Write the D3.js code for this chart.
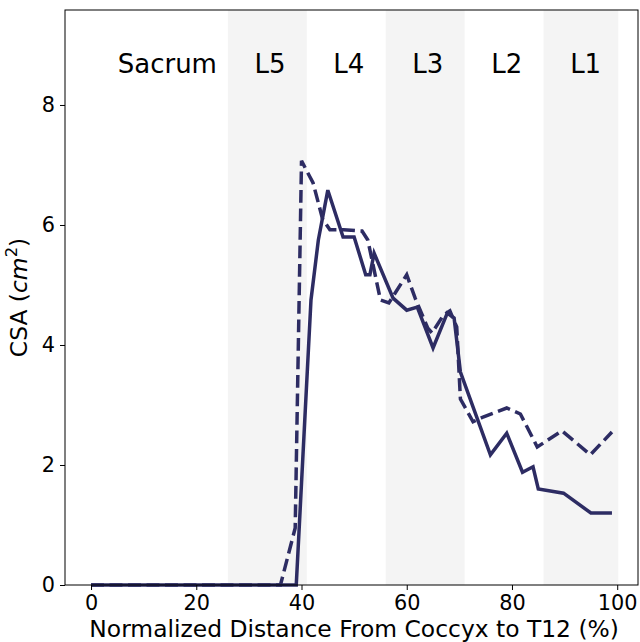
<!DOCTYPE html>
<html>
<head>
<meta charset="utf-8">
<script src="https://cdn.jsdelivr.net/npm/d3@7"></script>
<style>
  body { margin: 0; background: #fff; }
  text { font-family: "DejaVu Sans", sans-serif; fill: #000; }
</style>
</head>
<body>
<div id="chart-area"></div>
<script>
// region labels and shaded bands (% of coccyx-T12 distance)
var regionNames = ["Sacrum", "L5", "L4", "L3", "L2", "L1"];
var regionCenters = [14.5, 34, 49, 64, 79, 94];
var shadedBands = [[26, 41], [56, 71], [86, 100.2]];

// solid series
var solidX = [0, 39, 41.8, 43.2, 45, 47.9, 50, 52.2, 53, 53.8, 57.4, 60, 62, 65, 67.7, 69, 70.2, 75.9, 79, 82, 84, 85, 89.8, 95, 99];
var solidY = [0, 0, 4.75, 5.75, 6.58, 5.8, 5.8, 5.17, 5.17, 5.53, 4.78, 4.58, 4.63, 3.95, 4.53, 4.45, 3.55, 2.17, 2.53, 1.88, 1.97, 1.6, 1.53, 1.2, 1.2];

// dashed series
var dashedX = [0, 36, 38.8, 40, 42.2, 44, 45.4, 48, 51.5, 52.6, 55, 56.6, 60, 61.6, 64, 64.8, 67, 68.2, 69.5, 70.2, 72.6, 74.5, 79, 81.6, 84.8, 89.5, 94.9, 99];
var dashedY = [0, 0, 0.95, 7.07, 6.7, 6.1, 5.92, 5.92, 5.9, 5.75, 4.75, 4.7, 5.17, 4.78, 4.28, 4.2, 4.5, 4.57, 4.3, 3.1, 2.72, 2.8, 2.95, 2.85, 2.3, 2.57, 2.17, 2.55];

var xTicks = [0, 20, 40, 60, 80, 100];
var yTicks = [0, 2, 4, 6, 8];

var lineColor = "#2d2c63";

var svg = d3.select("#chart-area")
  .append("svg")
  .attr("width", 640)
  .attr("height", 642);

var margin = { top: 10, right: 2, bottom: 57, left: 65 };
var width = 640 - margin.left - margin.right;
var height = 642 - margin.top - margin.bottom;

var g = svg.append("g")
  .attr("transform", "translate(" + margin.left + "," + margin.top + ")");

var x = d3.scaleLinear()
  .domain([-4.95, 103.95])
  .range([0, width]);

var y = d3.scaleLinear()
  .domain([0, 9.583])
  .range([height, 0]);

g.selectAll("rect.band")
  .data(shadedBands)
  .enter()
  .append("rect")
  .attr("class", "band")
  .attr("x", d => x(d[0]))
  .attr("y", 0)
  .attr("width", d => x(d[1]) - x(d[0]))
  .attr("height", height)
  .attr("fill", "#f4f4f4");

g.selectAll("text.region")
  .data(regionNames)
  .enter()
  .append("text")
  .attr("class", "region")
  .attr("x", (d, i) => x(regionCenters[i]))
  .attr("y", 63)
  .attr("text-anchor", "middle")
  .attr("font-size", "26px")
  .text(d => d);

var line = d3.line()
  .x(d => x(d[0]))
  .y(d => y(d[1]));

g.append("path")
  .datum(dashedX.map((v, i) => [v, dashedY[i]]))
  .attr("d", line)
  .attr("fill", "none")
  .attr("stroke", lineColor)
  .attr("stroke-width", 3.5)
  .attr("stroke-dasharray", "12.9,5.6");

g.append("path")
  .datum(solidX.map((v, i) => [v, solidY[i]]))
  .attr("d", line)
  .attr("fill", "none")
  .attr("stroke", lineColor)
  .attr("stroke-width", 3.5);

// frame
g.append("rect")
  .attr("x", 0)
  .attr("y", 0)
  .attr("width", width)
  .attr("height", height)
  .attr("fill", "none")
  .attr("stroke", "#000")
  .attr("stroke-width", 1);

var xAxisCall = d3.axisBottom(x)
  .tickValues(xTicks)
  .tickSize(5)
  .tickPadding(5);
var xAxis = g.append("g")
  .attr("class", "x axis")
  .attr("transform", "translate(0," + height + ")")
  .call(xAxisCall);
xAxis.select(".domain").remove();
xAxis.selectAll("text")
  .attr("font-size", "20.8px")
  .attr("font-family", "DejaVu Sans")
  .attr("fill", "#000");

var yAxisCall = d3.axisLeft(y)
  .tickValues(yTicks)
  .tickSize(5)
  .tickPadding(5);
var yAxis = g.append("g")
  .attr("class", "y axis")
  .call(yAxisCall);
yAxis.select(".domain").remove();
yAxis.selectAll("text")
  .attr("font-size", "20.8px")
  .attr("font-family", "DejaVu Sans")
  .attr("fill", "#000");

g.append("text")
  .attr("class", "x axis-label")
  .attr("x", x(50))
  .attr("y", height + 52)
  .attr("font-size", "23.4px")
  .attr("text-anchor", "middle")
  .text("Normalized Distance From Coccyx to T12 (%)");

var yLabel = g.append("text")
  .attr("class", "y axis-label")
  .attr("x", -(height / 2))
  .attr("y", -38)
  .attr("font-size", "23.4px")
  .attr("text-anchor", "middle")
  .attr("transform", "rotate(-90)");
yLabel.append("tspan").text("CSA (");
yLabel.append("tspan").attr("font-style", "italic").text("cm");
yLabel.append("tspan").attr("font-size", "16.4px").attr("dy", -10).text("2");
yLabel.append("tspan").attr("dy", 10).text(")");
</script>
</body>
</html>
